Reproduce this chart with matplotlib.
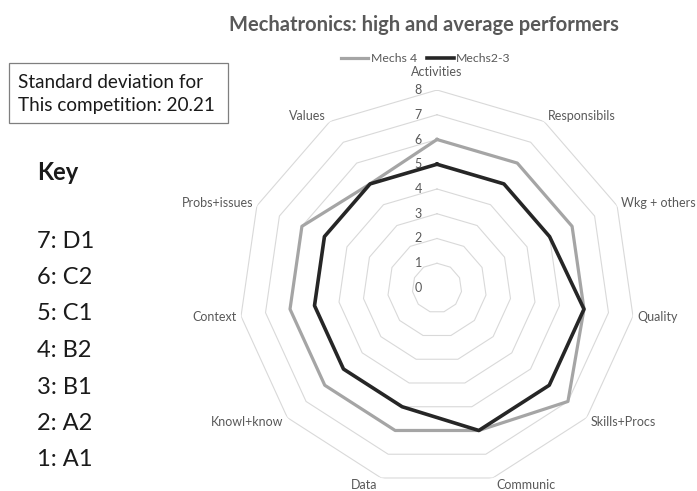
import numpy as np
import matplotlib
matplotlib.use("Agg")
import matplotlib.pyplot as plt
from matplotlib.patches import Rectangle

# radar categories, clockwise from the top
categories = ["Activities", "Responsibils", "Wkg + others", "Quality", "Skills+Procs",
              "Communic", "Data", "Knowl+know", "Context", "Probs+issues", "Values"]
mechs_4 = [6, 6, 6, 6, 7, 6, 6, 6, 6, 6, 5]
mechs_2_3 = [5, 5, 5, 6, 6, 6, 5, 5, 5, 5, 5]
levels = [0, 1, 2, 3, 4, 5, 6, 7, 8]

title = "Mechatronics: high and average performers"
std_lines = ["Standard deviation for", "This competition: 20.21"]
key_items = ["7: D1", "6: C2", "5: C1", "4: B2", "3: B1", "2: A2", "1: A1"]

plt.rcParams['font.family'] = ['Lato', 'DejaVu Sans']
W, H = 697, 491
fig = plt.figure(figsize=(W / 100, H / 100), dpi=100)

def fx(px):
    return px / W

def fy(py):
    return 1 - py / H

# polar axes: centre and outer radius in pixels
cx, cy, R = 437, 288, 198
ax = fig.add_axes([fx(cx - R), fy(cy + R), 2 * R / W, 2 * R / H], projection='polar')
ax.set_theta_offset(np.pi / 2)
ax.set_theta_direction(-1)
ax.set_ylim(0, levels[-1])
ax.grid(False)
ax.spines['polar'].set_visible(False)
ax.set_xticks([])
ax.set_yticks([])
ax.patch.set_visible(False)

theta = np.linspace(0, 2 * np.pi, len(categories), endpoint=False)
closed = np.append(theta, theta[0])

# polygon gridlines
for lv in levels[1:]:
    ax.plot(closed, np.full(len(closed), lv), color='#d9d9d9', lw=0.8, zorder=1)

ax.plot(closed, mechs_4 + mechs_4[:1], color='#a5a5a5', lw=2.3, label='Mechs 4', zorder=3)
ax.plot(closed, mechs_2_3 + mechs_2_3[:1], color='#262626', lw=2.6, label='Mechs2-3', zorder=4)

# value labels along the top spoke
for lv in levels:
    ax.annotate(str(lv), xy=(0, lv), xytext=(-15, 0), textcoords='offset pixels',
                ha='right', va='center', fontsize=9, color='#595959')

# category labels just outside the outer ring
for ang, name in zip(theta, categories):
    s, c = np.sin(ang), np.cos(ang)
    if abs(s) < 0.1:
        ha, dx, dy = 'center', 0, 18
    else:
        ha = 'left' if s > 0 else 'right'
        dx, dy = 4 * np.sign(s), 7 * c
    ax.annotate(name, xy=(ang, levels[-1]), xytext=(dx, dy), textcoords='offset pixels',
                ha=ha, va='center', fontsize=9, color='#595959')

ax.legend(loc='center', bbox_to_anchor=(fx(426), fy(59)), bbox_transform=fig.transFigure,
          ncol=2, frameon=False, fontsize=8.8, labelcolor='#595959',
          handlelength=2.2, handletextpad=0.2, columnspacing=0.8)

fig.text(fx(424), fy(25), title, ha='center', va='center', fontsize=14.5,
         weight='bold', color='#595959')

# boxed note
fig.add_artist(Rectangle((fx(9), fy(123)), 219 / W, 60 / H, transform=fig.transFigure,
                         fill=False, ec='#7f7f7f', lw=0.9))
for i, line in enumerate(std_lines):
    fig.text(fx(18), fy(82 + 24 * i), line, ha='left', va='center', fontsize=13.6, color='#1a1a1a')

fig.text(fx(37), fy(173), "Key", ha='left', va='center', fontsize=17, weight='bold', color='#1a1a1a')
for i, item in enumerate(key_items):
    fig.text(fx(37), fy(241 + 36.5 * i), item, ha='left', va='center', fontsize=17, color='#1a1a1a')

fig.savefig("out.png", dpi=100)
